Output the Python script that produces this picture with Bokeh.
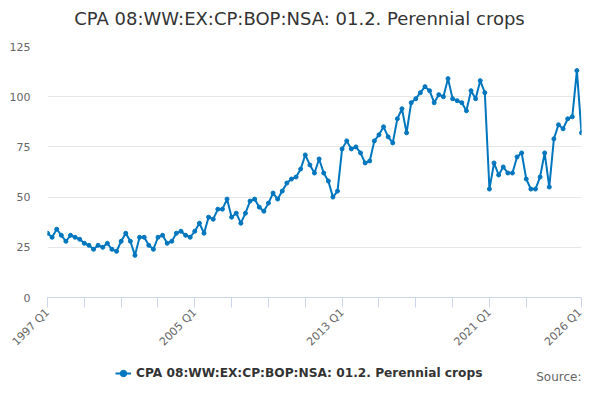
import math
from bokeh.plotting import figure
from bokeh.layouts import column
from bokeh.models import (Range1d, FixedTicker, Legend, LegendItem, Label,
                          ColumnDataSource)
from bokeh.embed import file_html
from bokeh.resources import INLINE

title_text = "CPA 08:WW:EX:CP:BOP:NSA: 01.2. Perennial crops"
series_name = "CPA 08:WW:EX:CP:BOP:NSA: 01.2. Perennial crops"
credit_text = "Source:"

# quarterly categories 1997 Q1 .. 2026 Q1
quarters = [f"{y} Q{q}" for y in range(1997, 2027) for q in range(1, 5)][:117]

values = [
    32, 30, 34, 31, 28, 31, 30, 29, 27, 26, 24, 26, 25, 27, 24, 23,
    28, 32, 28, 21, 30, 30, 26, 24, 30, 31, 27, 28, 32, 33, 31, 30,
    33, 37, 32, 40, 39, 44, 44, 49, 40, 42, 37, 42, 48, 49, 45, 43,
    47, 52, 49, 53, 57, 59, 60, 64, 71, 66, 62, 69, 62, 58, 50, 53,
    74, 78, 74, 75, 72, 67, 68, 78, 81, 85, 80, 77, 89, 94, 82, 97,
    99, 102, 105, 103, 97, 101, 100, 109, 99, 98, 97, 93, 103, 99, 108, 102,
    54, 67, 61, 65, 62, 62, 70, 72, 59, 54, 54, 60, 72, 55, 79, 86,
    84, 89, 90, 113, 82,
]

x_tick_quarters = [q for i, q in enumerate(quarters) if i % 8 == 0 and i <= 104] + ["2026 Q1"]
x_label_quarters = ["1997 Q1", "2005 Q1", "2013 Q1", "2021 Q1", "2026 Q1"]
y_ticks = [0, 25, 50, 75, 100, 125]

idx = list(range(len(values)))
src = ColumnDataSource(data=dict(x=idx, y=values, q=quarters[:len(values)]))

LINE = "#0076be"
FONT = "DejaVu Sans"
W = 584
BL, BR = 47, 3
HEAD_H = 38
MAIN_H = 318
FOOT_H = 28


def blank(height, yr):
    fig = figure(width=W, height=height, output_backend="svg", toolbar_location=None,
                 x_range=Range1d(BL, W - BR), y_range=yr,
                 x_axis_type=None, y_axis_type=None,
                 min_border_left=BL, min_border_right=BR,
                 min_border_top=0, min_border_bottom=0)
    fig.outline_line_color = None
    fig.xgrid.grid_line_color = None
    fig.ygrid.grid_line_color = None
    fig.border_fill_color = "white"
    fig.background_fill_color = "white"
    return fig


# header with title
h = blank(HEAD_H, Range1d(0, HEAD_H))
h.add_layout(Label(x=299, y=HEAD_H - 18, text=title_text, text_align="center",
                   text_baseline="middle", text_font=FONT, text_font_size="18px",
                   text_color="#333333"))

# main chart
p = figure(width=W, height=MAIN_H, output_backend="svg", toolbar_location=None,
           x_range=Range1d(0, len(values) - 1), y_range=Range1d(0, 125),
           min_border_left=BL, min_border_right=BR, min_border_top=8,
           min_border_bottom=59)
p.outline_line_color = None
p.background_fill_color = "white"
p.border_fill_color = "white"

p.line("x", "y", source=src, line_color=LINE, line_width=2)
p.scatter("x", "y", source=src, size=4, fill_color=LINE, line_color=LINE)

tick_pos = [quarters.index(q) for q in x_tick_quarters]
p.xaxis.ticker = FixedTicker(ticks=tick_pos)
p.xaxis.major_label_overrides = {quarters.index(q): (q if q in x_label_quarters else "")
                                 for q in x_tick_quarters}
p.xaxis.major_label_orientation = math.pi / 4
p.xaxis.axis_line_color = "#ccd6eb"
p.xaxis.major_tick_line_color = "#ccd6eb"
p.xaxis.major_tick_out = 10
p.xaxis.major_tick_in = 0
p.xaxis.minor_tick_line_color = None
p.xaxis.major_label_text_font = FONT
p.xaxis.major_label_text_font_size = "11px"
p.xaxis.major_label_text_color = "#666666"
p.xaxis.major_label_standoff = 3
p.xgrid.grid_line_color = None

p.yaxis.ticker = FixedTicker(ticks=y_ticks)
p.yaxis.axis_line_color = None
p.yaxis.major_tick_line_color = None
p.yaxis.minor_tick_line_color = None
p.yaxis.major_tick_out = 0
p.yaxis.major_label_standoff = 17
p.yaxis.major_label_text_font = FONT
p.yaxis.major_label_text_font_size = "11px"
p.yaxis.major_label_text_color = "#666666"
p.ygrid.grid_line_color = "#e6e6e6"
p.ygrid.ticker = FixedTicker(ticks=y_ticks)

# footer: legend + credits (series drawn out of view, only its legend icon shows)
f = blank(FOOT_H, Range1d(-FOOT_H, 0))
lg_line = f.line("x", "y", source=src, line_color=LINE, line_width=2)
lg_mark = f.scatter("x", "y", source=src, size=4, fill_color=LINE, line_color=LINE)

legend = Legend(items=[LegendItem(label=series_name, renderers=[lg_line, lg_mark])],
                location=(115 - BL, 3), orientation="horizontal",
                padding=0, margin=0, spacing=0, glyph_width=16, glyph_height=16,
                label_height=16, label_standoff=5, border_line_color=None,
                background_fill_alpha=0,
                label_text_font=FONT, label_text_font_size="12.2px",
                label_text_font_style="bold", label_text_color="#333333")
f.add_layout(legend, "center")

f.add_layout(Label(x=W - BR, y=-FOOT_H + 1, text=credit_text,
                   text_align="right", text_baseline="bottom", text_font=FONT,
                   text_font_size="12px", text_color="#666666"))

layout = column(h, p, f, spacing=0)
open("out.html", "w").write(file_html(layout, INLINE))
